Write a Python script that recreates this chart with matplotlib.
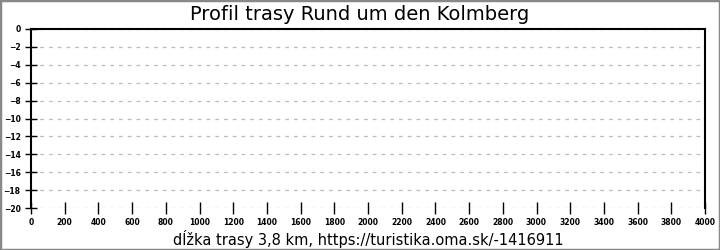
import matplotlib
matplotlib.use("Agg")
import matplotlib.pyplot as plt
from matplotlib.patches import Rectangle

title = "Profil trasy Rund um den Kolmberg"
xlabel = "dĺžka trasy 3,8 km, https://turistika.oma.sk/-1416911"
distance_m = []      # no elevation profile data drawn in reference
elevation_m = []
x_ticks = list(range(0, 4001, 200))
y_ticks = list(range(0, -21, -2))

fig = plt.figure(figsize=(7.2, 2.5), dpi=100)
ax = fig.add_axes([31/720, 1-208/250, (705-31)/720, (208-29)/250])
ax.plot(distance_m, elevation_m, color="black")
ax.set_xlim(0, 4000)
ax.set_ylim(-20, 0)
ax.set_xticks(x_ticks)
ax.set_yticks(y_ticks)
ax.tick_params(direction="inout", length=9, width=1.0, labelsize=5.5, pad=3)
for lab in ax.get_xticklabels() + ax.get_yticklabels():
    lab.set_fontweight("bold")
ax.yaxis.grid(True, linestyle=(0, (3, 4)), color="#bbbbbb", linewidth=0.9)
for s in ["left", "top", "right"]:
    ax.spines[s].set_linewidth(1.5)
    ax.spines[s].set_color("black")
ax.spines["bottom"].set_visible(False)
ax.set_xlabel(xlabel, fontsize=10.5, labelpad=2)
fig.text(0.5, 1-14/250, title, ha="center", va="center", fontsize=14)
fig.patches.append(Rectangle((0, 0), 1, 1, transform=fig.transFigure, fill=False,
                             edgecolor="#888888", linewidth=2.5))
fig.savefig("out.png", dpi=100)
